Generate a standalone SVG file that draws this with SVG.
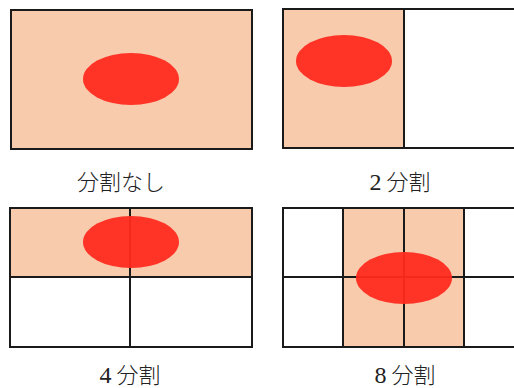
<svg xmlns="http://www.w3.org/2000/svg" width="514" height="388" viewBox="0 0 514 388">
<style>
.cell{stroke:#1a1a1a;stroke-width:2}
.hl{fill:#F8CBAD}
.wh{fill:#ffffff}
.ln{stroke:#1a1a1a;stroke-width:2;fill:none}
.el{fill:#FF2A1F;fill-opacity:0.95}
.lb{font-family:"Noto Sans CJK JP",sans-serif;font-size:22px;font-weight:300;fill:#222;text-anchor:middle}
.dg{font-family:"Liberation Serif",serif;font-size:24px;font-weight:400}
</style>
<rect width="514" height="388" fill="#fff"/>
<g id="none">
<rect class="cell hl" x="11" y="10" width="241" height="139"/>
<ellipse class="el" cx="131" cy="79" rx="48" ry="26"/>
<text class="lb" x="121" y="190">分割なし</text>
</g>
<g id="split2">
<rect class="cell wh" x="283" y="9" width="250" height="139"/>
<rect class="cell hl" x="283" y="9" width="121" height="139"/>
<ellipse class="el" cx="344" cy="61" rx="48" ry="26"/>
<text class="lb" x="400" y="190"><tspan class="dg">2</tspan> 分割</text>
</g>
<g id="split4">
<rect class="cell wh" x="10" y="208" width="242" height="139"/>
<rect class="cell hl" x="10" y="208" width="242" height="69"/>
<line class="ln" x1="130" y1="208" x2="130" y2="347"/>
<ellipse class="el" cx="131" cy="242" rx="48" ry="26"/>
<text class="lb" x="130" y="383"><tspan class="dg">4</tspan> 分割</text>
</g>
<g id="split8">
<rect class="cell wh" x="283" y="208" width="250" height="139"/>
<rect class="cell hl" x="343" y="208" width="121" height="139"/>
<line class="ln" x1="283" y1="277" x2="514" y2="277"/>
<line class="ln" x1="404" y1="208" x2="404" y2="347"/>
<ellipse class="el" cx="404" cy="278" rx="48" ry="26"/>
<text class="lb" x="405" y="383"><tspan class="dg">8</tspan> 分割</text>
</g>
</svg>
